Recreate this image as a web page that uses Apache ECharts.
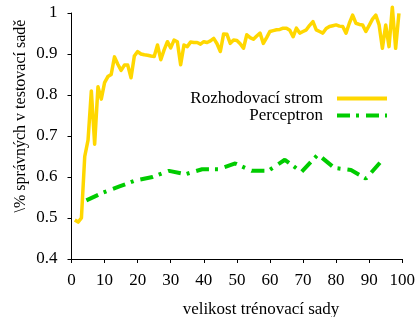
<!DOCTYPE html>
<html>
<head>
<meta charset="utf-8">
<script src="https://cdn.jsdelivr.net/npm/echarts@6/dist/echarts.min.js"></script>
<style>
  html, body { margin: 0; padding: 0; background: #fff; }
  #chart { width: 418px; height: 317px; }
</style>
</head>
<body>
<div id="chart"></div>
<script>
// velikost trénovací sady (1..99)
let treeSizes = [];
for (let i = 1; i <= 99; i++) treeSizes.push(i);
let treeAcc = [
  0.495, 0.49, 0.50, 0.65, 0.69, 0.81, 0.68, 0.82, 0.79, 0.83,
  0.845, 0.85, 0.893, 0.875, 0.86, 0.873, 0.873, 0.842, 0.895, 0.906,
  0.90, 0.898, 0.897, 0.895, 0.894, 0.922, 0.886, 0.91, 0.93, 0.915,
  0.934, 0.93, 0.874, 0.922, 0.918, 0.929, 0.928, 0.928, 0.924, 0.93,
  0.928, 0.932, 0.938, 0.925, 0.906, 0.949, 0.948, 0.926, 0.934, 0.933,
  0.925, 0.914, 0.947, 0.94, 0.936, 0.944, 0.951, 0.926, 0.94, 0.955,
  0.957, 0.959, 0.96, 0.963, 0.963, 0.958, 0.942, 0.963, 0.951, 0.955,
  0.959, 0.97, 0.979, 0.959, 0.955, 0.951, 0.962, 0.967, 0.969, 0.971,
  0.968, 0.967, 0.951, 0.975, 0.995, 0.975, 0.972, 0.971, 0.955, 0.97,
  0.985, 0.995, 0.971, 0.914, 0.971, 0.918, 1.014, 0.914, 0.999
];
let percSizes = [4.5, 9.5, 14.5, 19.5, 24.5, 29.5, 34.5, 39.5, 44.5, 49.5,
  54.5, 59.5, 64.5, 69.5, 74.5, 79.5, 84.5, 89, 93.5];
let percAcc = [0.543, 0.562, 0.577, 0.592, 0.600, 0.615, 0.607, 0.619, 0.619, 0.633,
  0.615, 0.615, 0.642, 0.612, 0.655, 0.622, 0.617, 0.596, 0.637];

let xTicks = [0, 10, 20, 30, 40, 50, 60, 70, 80, 90, 100];
let yTicks = [0.4, 0.5, 0.6, 0.7, 0.8, 0.9, 1];

function pairs(xs, ys) {
  return xs.map((x, i) => [x, ys[i]]);
}

var font = "Liberation Serif";
var myChart = echarts.init(document.getElementById("chart"));
myChart.setOption({
  animation: false,
  grid: { left: 71.5, right: 13.5, top: 13, bottom: 58 },
  legend: {
    orient: "vertical",
    right: 24,
    top: 85,
    align: "right",
    itemWidth: 50,
    itemHeight: 12,
    itemGap: 0,
    itemStyle: { opacity: 0 },
    lineStyle: { width: 4 },
    textStyle: { fontFamily: font, fontSize: 17, lineHeight: 17, color: "#000", padding: [0, 9, 0, 0] },
    data: ["Rozhodovací strom", "Perceptron"],
  },
  xAxis: {
    type: "value",
    min: xTicks[0],
    max: xTicks[xTicks.length - 1],
    interval: 10,
    splitLine: { show: false },
    axisLine: { lineStyle: { color: "#000", width: 1 } },
    axisTick: { length: 4, lineStyle: { color: "#000" } },
    axisLabel: { color: "#000", fontFamily: font, fontSize: 17, margin: 13 },
  },
  yAxis: {
    type: "value",
    min: yTicks[0],
    max: yTicks[yTicks.length - 1],
    interval: 0.1,
    splitLine: { show: false },
    axisLine: { show: true, lineStyle: { color: "#000", width: 1 } },
    axisTick: { show: true, length: 4, lineStyle: { color: "#000" } },
    axisLabel: {
      color: "#000", fontFamily: font, fontSize: 17, margin: 14,
      formatter: (v) => String(Math.round(v * 10) / 10),
    },
  },
  graphic: [
    {
      type: "text",
      x: 21, y: 116,
      rotation: Math.PI / 2,
      style: {
        text: "\\% správných v testovací sadě",
        fontFamily: font, fontSize: 16, fill: "#000",
        align: "center", verticalAlign: "middle",
      },
    },
    {
      type: "text",
      x: 261, y: 310,
      style: {
        text: "velikost trénovací sady",
        fontFamily: font, fontSize: 17, fill: "#000",
        align: "center", verticalAlign: "middle",
      },
    },
  ],
  series: [
    {
      name: "Rozhodovací strom",
      type: "line",
      symbol: "none",
      clip: false,
      data: pairs(treeSizes, treeAcc),
      lineStyle: { color: "#ffd700", width: 3.5, join: "round" },
      itemStyle: { color: "#ffd700" },
    },
    {
      name: "Perceptron",
      type: "line",
      symbol: "none",
      data: pairs(percSizes, percAcc),
      lineStyle: { color: "#00cc00", width: 4, type: [13, 6, 3, 7], cap: "butt" },
      itemStyle: { color: "#00cc00" },
    },
  ],
});
</script>
</body>
</html>
